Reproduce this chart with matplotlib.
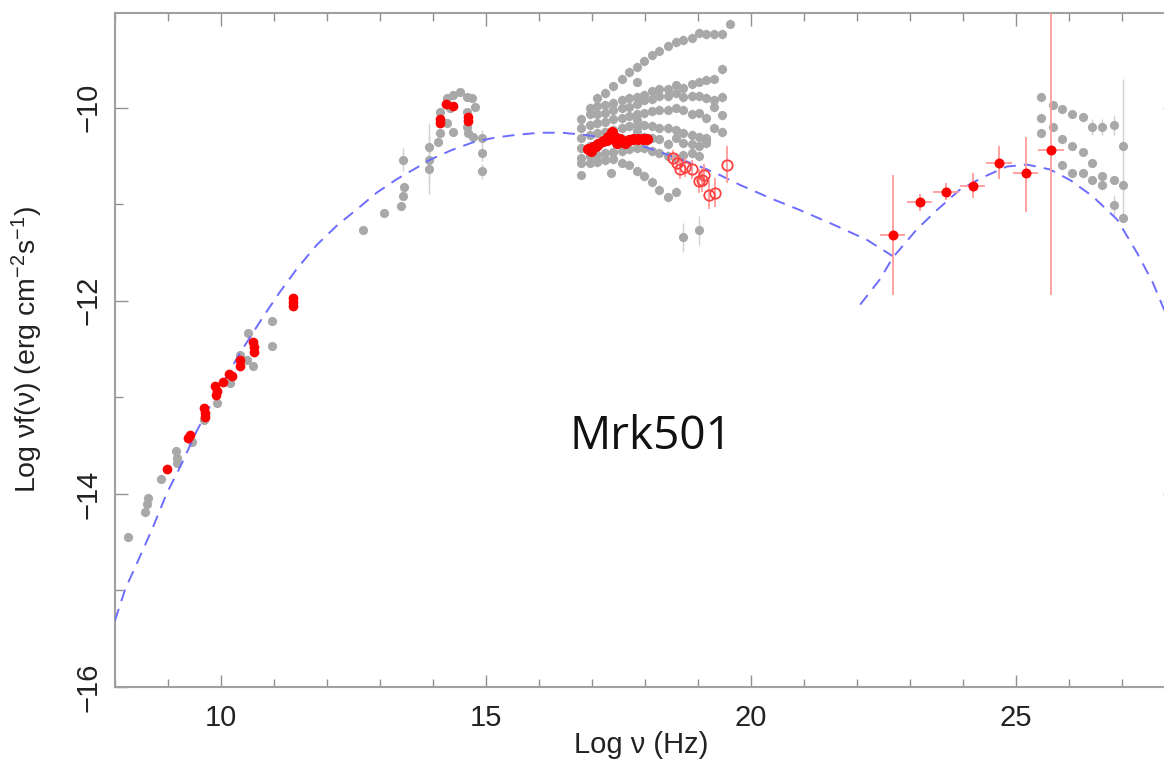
import matplotlib
matplotlib.use("Agg")
import matplotlib.pyplot as plt
from matplotlib.ticker import MultipleLocator

plt.rcParams['font.family'] = ['Liberation Sans', 'DejaVu Sans']
plt.rcParams['mathtext.fontset'] = 'custom'
plt.rcParams['mathtext.rm'] = 'Liberation Sans'
plt.rcParams['mathtext.default'] = 'regular'

# ---------------- model curves ----------------
sync_x = [8.00, 8.19, 8.47, 8.72, 8.98, 9.23, 9.55, 9.95, 10.36, 10.79, 11.11, 11.43, 11.81,
          12.19, 12.57, 12.94, 13.32, 13.70, 13.94, 14.35, 14.75, 15.17, 15.60, 16.02, 16.43,
          16.83, 17.20, 17.58, 17.96, 18.34, 18.70, 19.04, 19.42, 19.79, 20.42, 20.92, 21.55,
          22.19, 22.68]
sync_y = [-15.31, -14.99, -14.65, -14.34, -13.99, -13.72, -13.34, -12.93, -12.54, -12.17,
          -11.91, -11.67, -11.42, -11.22, -11.05, -10.88, -10.74, -10.62, -10.54, -10.44,
          -10.36, -10.31, -10.28, -10.26, -10.26, -10.28, -10.31, -10.35, -10.40, -10.47,
          -10.54, -10.61, -10.70, -10.80, -10.95, -11.06, -11.21, -11.37, -11.54]
ic_x = [22.06, 22.43, 22.68, 23.13, 23.51, 23.94, 24.38, 24.83, 25.21, 25.64, 26.02,
        26.45, 26.91, 27.28, 27.58, 27.77, 28.0]
ic_y = [-12.04, -11.78, -11.55, -11.26, -11.06, -10.85, -10.72, -10.61, -10.59, -10.64,
        -10.75, -10.92, -11.16, -11.50, -11.81, -12.06, -12.35]

# ---------------- archival (grey) data ----------------
grey_radio_x = [8.25, 8.57, 8.60, 8.62, 8.87, 9.15, 9.17, 9.17, 9.45, 9.68, 9.92, 10.17,
                10.36, 10.49, 10.60, 10.51, 10.96, 10.96]
grey_radio_y = [-14.45, -14.19, -14.11, -14.04, -13.85, -13.56, -13.68, -13.63, -13.46,
                -13.23, -13.06, -12.85, -12.56, -12.61, -12.68, -12.33, -12.21, -12.47]

grey_opt_x = [12.68, 13.08, 13.40, 13.43, 13.45, 13.43, 13.92, 13.92, 13.92,
              14.09, 14.13, 14.13, 14.26, 14.38, 14.51, 14.64, 14.74, 14.79, 14.64, 14.64,
              14.66, 14.75, 14.38, 14.26, 14.32, 14.92, 14.92, 14.92]
grey_opt_y = [-11.27, -11.09, -11.02, -10.91, -10.82, -10.54, -10.41, -10.54, -10.64,
              -10.36, -10.26, -10.05, -9.90, -9.87, -9.84, -9.89, -9.90, -9.99, -10.05, -10.20,
              -10.26, -10.30, -10.25, -10.16, -10.00, -10.31, -10.47, -10.66]
grey_opt_err = [0.0, 0.0, 0.0, 0.0, 0.0, 0.12, 0.25, 0.25, 0.25,
                0, 0, 0, 0, 0, 0, 0, 0, 0, 0, 0, 0, 0, 0, 0, 0, 0.08, 0.08, 0.08]

xray_x = [16.80, 16.96, 17.10, 17.25, 17.40, 17.56, 17.70, 17.84, 17.99, 18.13,
          18.27, 18.43, 18.58, 18.72, 18.88, 19.02, 19.16, 19.31, 19.46, 19.60]
xrayA_y = [-9.90, -9.85, -9.78, -9.70, -9.63, -9.58, -9.52, -9.46, -9.41, -9.36,
           -9.32, -9.30, -9.28, -9.23, -9.24, -9.24, -9.24, -9.13]
xrayB_y = [-10.00, -9.98, -9.97, -9.95, -9.92, -9.90, -9.89, -9.87, -9.83, -9.81,
           -9.81, -9.77, -9.80, -9.76, -9.73, -9.71, -9.70, -9.60]
xrayC_y = [-10.12, -10.07, -10.07, -10.06, -10.02, -10.00, -9.99, -9.96, -9.92, -9.91,
           -9.88, -9.88, -9.85, -9.89, -9.88, -9.88, -9.90, -9.92, -9.89]
xrayD_y = [-10.21, -10.18, -10.16, -10.15, -10.12, -10.11, -10.09, -10.07, -10.06, -10.04,
           -10.02, -10.02, -10.00, -10.02, -10.07, -10.06, -10.11, -9.99, -10.08]
xrayE_y = [-10.31, -10.28, -10.26, -10.25, -10.23, -10.21, -10.19, -10.18, -10.18, -10.19,
           -10.21, -10.21, -10.23, -10.26, -10.28, -10.30, -10.35, -10.21, -10.25]
xrayF_y = [-10.42, -10.40, -10.37, -10.35, -10.33, -10.32, -10.32, -10.30, -10.30, -10.31,
           -10.33, -10.38, -10.31, -10.37, -10.38, -10.40, -10.37]
xrayG_y = [-10.52, -10.50, -10.49, -10.47, -10.46, -10.45, -10.43, -10.42, -10.42, -10.45,
           -10.47, -10.50, -10.52, -10.49, -10.47, -10.50, -10.31]
xrayH_y = [-10.57, -10.57, -10.56, -10.54, -10.53, -10.57, -10.59, -10.66, -10.71, -10.77,
           -10.85, -10.93, -10.87]
xray_extra_x = [16.80, 17.36, 17.84, 17.84, 17.84, 18.72, 19.02]
xray_extra_y = [-10.70, -10.68, -9.73, -10.13, -10.24, -11.34, -11.27]
xray_extra_err = [0.0, 0.0, 0.0, 0.0, 0.0, 0.15, 0.15]

gam_grey_x = [25.47, 25.69, 25.86, 26.05, 26.26, 26.44, 26.62, 26.84, 27.01,
              25.47, 25.69, 25.86, 26.05, 26.26, 26.44, 26.62, 26.84, 27.01,
              25.47, 25.86, 26.05, 26.26, 26.44, 26.62, 26.84, 27.01]
gam_grey_y = [-9.89, -9.97, -10.01, -10.07, -10.10, -10.20, -10.20, -10.18, -10.40,
              -10.11, -10.20, -10.32, -10.40, -10.46, -10.57, -10.71, -10.75, -10.80,
              -10.26, -10.59, -10.68, -10.68, -10.75, -10.80, -11.01, -11.14]
gam_grey_err = [0, 0, 0, 0, 0, 0.08, 0.08, 0.1, 0.7,
                0, 0, 0, 0, 0, 0, 0, 0, 0,
                0, 0, 0, 0, 0, 0, 0.11, 0]

# ---------------- simultaneous (red) data ----------------
red_radio_x = [8.98, 9.38, 9.42, 9.68, 9.70, 9.70, 9.89, 9.92, 9.90, 10.04, 10.15, 10.20,
               10.36, 10.36, 10.60, 10.62, 10.62, 11.36, 11.36, 11.36]
red_radio_y = [-13.74, -13.42, -13.39, -13.11, -13.16, -13.20, -12.88, -12.93, -12.98,
               -12.84, -12.76, -12.78, -12.61, -12.68, -12.43, -12.48, -12.53, -11.97,
               -12.01, -12.05]
red_opt_x = [14.25, 14.38, 14.13, 14.13, 14.66, 14.66]
red_opt_y = [-9.96, -9.98, -10.16, -10.12, -10.10, -10.14]

red_xray_x = [16.93, 17.02, 17.12, 17.21, 17.31, 17.37, 17.43, 17.53, 17.62, 17.69,
              17.78, 17.87, 17.97, 18.03, 17.28, 17.47, 16.98, 17.07]
red_xray_y = [-10.43, -10.41, -10.38, -10.35, -10.30, -10.25, -10.30, -10.33, -10.37,
              -10.34, -10.33, -10.32, -10.33, -10.33, -10.34, -10.37, -10.45, -10.40]

hard_x = [18.53, 18.61, 18.66, 18.75, 18.88, 19.01, 19.07, 19.11, 19.20, 19.32, 19.54]
hard_y = [-10.52, -10.57, -10.64, -10.62, -10.64, -10.76, -10.75, -10.70, -10.90, -10.88, -10.59]
hard_err = [0.08, 0.08, 0.1, 0.1, 0.1, 0.12, 0.12, 0.12, 0.15, 0.15, 0.19]

gam_x = [22.67, 23.18, 23.68, 24.18, 24.68, 25.18, 25.66]
gam_y = [-11.32, -10.98, -10.87, -10.81, -10.57, -10.68, -10.44]
gam_xerr = [0.24, 0.24, 0.24, 0.24, 0.24, 0.24, 0.24]
gam_yerr_lo = [0.62, 0.09, 0.09, 0.13, 0.17, 0.40, 1.50]
gam_yerr_hi = [0.62, 0.09, 0.09, 0.13, 0.17, 0.38, 1.60]

# ---------------- figure ----------------
W, H = 1164, 768
fig = plt.figure(figsize=(W / 100, H / 100), dpi=100)
ax = fig.add_axes([115 / W, (H - 687) / H, 1060 / W, 674 / H])

GREY = '#a8a8a8'
GREY_E = '#d0d0d0'
RED = '#ff0000'
RED_E = '#ff9a9a'
ms_g = 6.6

def grey_pts(x, y, yerr=None):
    ax.errorbar(x, y, yerr=yerr, fmt='o', color=GREY, ms=ms_g, mec='none',
                ecolor=GREY_E, elinewidth=1.0, capsize=0, zorder=2)

grey_pts(grey_radio_x, grey_radio_y)
grey_pts(grey_opt_x, grey_opt_y, grey_opt_err)
xray_rows = [(2, xrayA_y), (1, xrayB_y), (0, xrayC_y), (0, xrayD_y), (0, xrayE_y),
             (0, xrayF_y), (0, xrayG_y), (0, xrayH_y)]
for start, yy in xray_rows:
    grey_pts(xray_x[start:start + len(yy)], yy, [0.05] * len(yy))
grey_pts(xray_extra_x, xray_extra_y, xray_extra_err)
grey_pts(gam_grey_x, gam_grey_y, gam_grey_err)

# model curves
ax.plot(sync_x, sync_y, color='#6c6cff', lw=1.4, dashes=(6.2, 4.2), zorder=3)
ax.plot(ic_x, ic_y, color='#6c6cff', lw=1.4, dashes=(6.2, 4.2), zorder=3)

# red simultaneous data
ax.plot(red_radio_x, red_radio_y, 'o', color=RED, ms=7.0, mec='none', zorder=4)
ax.plot(red_opt_x, red_opt_y, 'o', color=RED, ms=7.0, mec='none', zorder=4)
ax.plot(red_xray_x, red_xray_y, 'o', color=RED, ms=8.0, mec='none', zorder=4)
ax.errorbar(hard_x, hard_y, yerr=hard_err, fmt='o', mfc='none', mec='#ff4040', ms=7.5,
            mew=1.3, ecolor=RED_E, elinewidth=1.3, capsize=0, zorder=4)
ax.errorbar(gam_x, gam_y, xerr=gam_xerr, yerr=[gam_yerr_lo, gam_yerr_hi], fmt='o',
            color=RED, ms=7.2, mec='none', ecolor=RED_E, elinewidth=1.3, capsize=0, zorder=4)

# axes styling
ax.set_xlim(8, 28)
ax.set_ylim(-16, -9.02)
ax.xaxis.set_major_locator(MultipleLocator(5))
ax.xaxis.set_minor_locator(MultipleLocator(1))
ax.yaxis.set_major_locator(MultipleLocator(2))
ax.yaxis.set_minor_locator(MultipleLocator(1))
for s in ax.spines.values():
    s.set_color('#a0a0a0')
    s.set_linewidth(1.5)
ax.tick_params(which='both', direction='in', top=True, right=True, color='#909090',
               width=1.0, labelsize=21, labelcolor='#222222')
ax.tick_params(which='major', length=9)
ax.tick_params(which='minor', length=5.5)
ax.tick_params(axis='x', pad=12)
ax.tick_params(axis='y', pad=9)
for lab in ax.get_yticklabels():
    lab.set_rotation(90)
    lab.set_va('center')

ax.set_xlabel('Log ν (Hz)', fontsize=21, color='#222222')
ax.set_ylabel('Log νf(ν) (erg cm$^{-2}$s$^{-1}$)', fontsize=20.5, color='#222222')
ax.xaxis.set_label_coords(0.496, -0.066)
ax.yaxis.set_label_coords(-0.066, 0.5)

fig.text(651 / W, 1 - 437 / H, 'Mrk501', fontsize=33, family='Open Sans',
         ha='center', va='center', color='#111111')

fig.savefig('out.png', dpi=100)
